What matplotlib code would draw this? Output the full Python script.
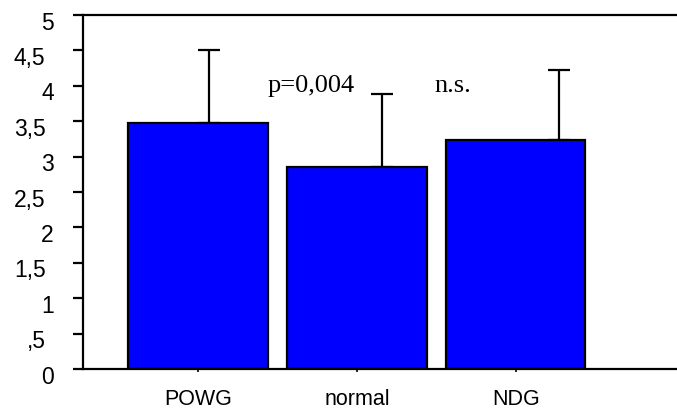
import numpy as np
import matplotlib.pyplot as plt
from matplotlib.transforms import ScaledTranslation

groups = ['POWG', 'normal', 'NDG']
means = [3.47, 2.85, 3.23]
sd_upper = [1.04, 1.03, 0.99]
yticks = [0, 0.5, 1, 1.5, 2, 2.5, 3, 3.5, 4, 4.5, 5]
ytick_labels = ['0', ',5', '1', '1,5', '2', '2,5', '3', '3,5', '4', '4,5', '5']

fig = plt.figure(figsize=(6.77, 4.16), dpi=100)
ax = fig.add_axes([83 / 677, 1 - 369 / 416, 1 - 83 / 677, 354 / 416])

x = np.arange(len(groups))
# whiskers sit a bit right of the bar centres
err_shift = np.array([0.07, 0.16, 0.27])
ax.bar(x, means, width=0.875, color='#0000ff', edgecolor='black', linewidth=1.6, zorder=2)
ax.errorbar(x + err_shift, means, yerr=[np.zeros(len(means)), sd_upper], fmt='none',
            ecolor='black', elinewidth=1.6, capsize=8, capthick=1.6, zorder=1)

ax.set_xlim(-0.723, 3.013)
ax.set_ylim(0, 5)
ax.set_yticks(yticks)
ax.set_yticklabels(ytick_labels, fontname='Liberation Sans', fontsize=16.5)
ax.set_xticks(x)
ax.set_xticklabels(groups, fontname='Liberation Sans', fontsize=15.5)

ax.tick_params(axis='y', direction='out', length=7.5, width=1.6, pad=13.5)
ax.tick_params(axis='x', direction='out', length=2.5, width=1.2, pad=12)
ax.spines['right'].set_visible(False)
for side in ['left', 'top', 'bottom']:
    ax.spines[side].set_linewidth(1.6)

# decimal labels end a little further left than the whole numbers
for lab in ax.get_yticklabels():
    dx = -6.0 if ',' in lab.get_text() else 0.0
    lab.set_transform(lab.get_transform() + ScaledTranslation(dx / 72, -4.0 / 72, fig.dpi_scale_trans))

ax.text(0.71, 3.91, 'p=0,004', fontname='Liberation Serif', fontsize=19, ha='center', va='baseline')
ax.text(1.60, 3.91, 'n.s.', fontname='Liberation Serif', fontsize=19, ha='center', va='baseline')

fig.savefig('out.png', dpi=100)
